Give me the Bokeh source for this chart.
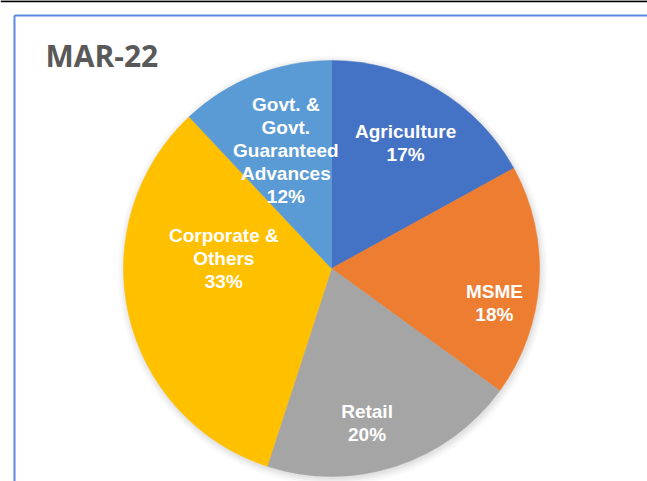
import math
from bokeh.plotting import figure
from bokeh.models import Range1d, ColumnDataSource
from bokeh.core.properties import value
from bokeh.embed import file_html
from bokeh.resources import INLINE

# ---- data ----
title_text = "MAR-22"
categories = ["Agriculture", "MSME", "Retail", "Corporate & Others",
              "Govt. & Govt. Guaranteed Advances"]
shares = [17, 18, 20, 33, 12]
label_lines = [
    ["Agriculture", "17%"],
    ["MSME", "18%"],
    ["Retail", "20%"],
    ["Corporate &", "Others", "33%"],
    ["Govt. &", "Govt.", "Guaranteed", "Advances", "12%"],
]
colors = ["#4472C4", "#ED7D31", "#A5A5A5", "#FFC000", "#5B9BD5"]

# ---- layout (page pixels) ----
W, H = 647, 481
PAGE_H = 481
cx, cy_page, R = 331, 268, 208
cy = PAGE_H - cy_page
label_r = [0.70, 0.80, 0.76, 0.52, 0.61]
label_dang = [0.0, 8.2, 5.0, 17.9, 0.5]   # degrees, clockwise tweak
line_h = 23

p = figure(width=W, height=H, output_backend="svg", toolbar_location=None,
           x_range=Range1d(0, W), y_range=Range1d(0, H),
           min_border=0)
p.axis.visible = False
p.grid.visible = False
p.outline_line_color = None
p.background_fill_color = "white"
p.border_fill_color = "white"

# top black rule and blue frame (decoration)
p.segment(x0=[0], y0=[PAGE_H - 0.75], x1=[W], y1=[PAGE_H - 0.75],
          line_color="black", line_width=2)
frame_color = "#5A8AE0"
p.segment(x0=[14, 14], y0=[PAGE_H - 15, PAGE_H - 15], x1=[14, 660], y1=[-5, PAGE_H - 15],
          line_color=frame_color, line_width=2)

# soft shadow
for i, a in enumerate([0.035, 0.03, 0.025, 0.02]):
    p.circle(x=[cx + 1], y=[cy - 2], radius=R + 1 + 2 * i, fill_color="black",
             fill_alpha=a, line_color=None)

# wedges
total = sum(shares)
starts, ends, mids = [], [], []
cum = 0
for s in shares:
    a0 = math.pi / 2 - cum / total * 2 * math.pi
    cum += s
    a1 = math.pi / 2 - cum / total * 2 * math.pi
    starts.append(a0)
    ends.append(a1)
    mids.append((a0 + a1) / 2)

src = ColumnDataSource(dict(start=starts, end=ends, color=colors, cat=categories))
p.wedge(x=cx, y=cy, radius=R, start_angle="start", end_angle="end",
        direction="clock", fill_color="color", line_color="color", line_width=0.5,
        source=src)

# labels
tx, ty, tt = [], [], []
for lines, m, rf, da in zip(label_lines, mids, label_r, label_dang):
    ang = m - math.radians(da)
    lx = cx + rf * R * math.cos(ang)
    ly = cy + rf * R * math.sin(ang)
    n = len(lines)
    for i, t in enumerate(lines):
        tx.append(lx)
        ty.append(ly + (n - 1) / 2 * line_h - i * line_h)
        tt.append(t)
p.text(x=tx, y=ty, text=tt, text_align="center", text_baseline="middle",
       text_color="white", text_font=value("Liberation Sans"),
       text_font_style="bold", text_font_size="19px")

# title
p.text(x=[45], y=[PAGE_H - 55], text=[title_text], text_align="left",
       text_baseline="middle", text_color="#595959", text_font=value("Open Sans"),
       text_font_style="bold", text_font_size="30px")

open("out.html", "w").write(file_html(p, INLINE))
